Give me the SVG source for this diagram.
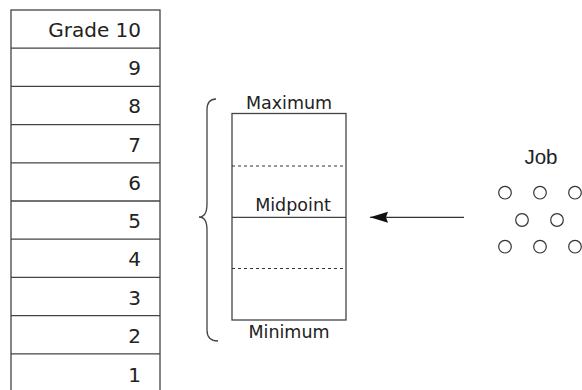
<svg xmlns="http://www.w3.org/2000/svg" width="582" height="390" viewBox="0 0 582 390">
<style>
.t{font-family:"DejaVu Sans","Open Sans",sans-serif;fill:#222}
.g{font-size:20px;text-anchor:end}
.s{font-size:17.5px;text-anchor:middle}
.ln{stroke:#444;stroke-width:1.3;fill:none}
.d{stroke:#333;stroke-width:1;stroke-dasharray:3 3;fill:none}
.c{fill:none;stroke:#333;stroke-width:1.2}
</style>
<defs>
<marker id="ah" markerWidth="18" markerHeight="12" refX="18" refY="6" orient="auto" markerUnits="userSpaceOnUse">
<path d="M18,6 L0,0.5 L2,6 L0,11.5 Z" fill="#111"/>
</marker>
</defs>
<rect width="582" height="390" fill="#fff"/>
<g id="grades">
<rect class="ln" x="11" y="10" width="149" height="383"/>
<path class="ln" d="M11,48.2H160M11,86.4H160M11,124.6H160M11,162.8H160M11,201H160M11,239.2H160M11,277.4H160M11,315.6H160M11,353.8H160"/>
<text class="t g" x="141" y="37">Grade 10</text>
<text class="t g" x="141" y="75">9</text>
<text class="t g" x="141" y="113">8</text>
<text class="t g" x="141" y="152">7</text>
<text class="t g" x="141" y="190">6</text>
<text class="t g" x="141" y="228">5</text>
<text class="t g" x="141" y="266">4</text>
<text class="t g" x="141" y="305">3</text>
<text class="t g" x="141" y="343">2</text>
<text class="t g" x="141" y="382">1</text>
</g>
<g id="range">
<rect class="ln" x="232" y="113.5" width="114" height="206.5"/>
<line class="ln" x1="232" y1="217.3" x2="346" y2="217.3"/>
<line class="d" x1="232" y1="166" x2="346" y2="166"/>
<line class="d" x1="232" y1="268.5" x2="346" y2="268.5"/>
<text class="t s" x="289" y="109">Maximum</text>
<text class="t s" x="293" y="211">Midpoint</text>
<text class="t s" x="289" y="338">Minimum</text>
</g>
<g id="brace">
<path class="ln" d="M216,99 Q207,99 207,110 L207,204 Q207,217 199,217 Q207,217 207,230 L207,330 Q207,341 218,341"/>
</g>
<g id="job">
<text class="t" x="541" y="164" style="font-family:'Liberation Sans',Arial,sans-serif;font-size:20.5px;text-anchor:middle">Job</text>
<circle class="c" cx="505" cy="192.7" r="6.3"/>
<circle class="c" cx="540" cy="192.7" r="6.3"/>
<circle class="c" cx="575" cy="192.7" r="6.3"/>
<circle class="c" cx="522" cy="220" r="6.3"/>
<circle class="c" cx="557" cy="220" r="6.3"/>
<circle class="c" cx="505" cy="246.7" r="6.3"/>
<circle class="c" cx="540" cy="246.7" r="6.3"/>
<circle class="c" cx="575" cy="246.7" r="6.3"/>
</g>
<g id="connectors">
<line x1="464" y1="217.3" x2="370" y2="217.3" stroke="#333" stroke-width="1.3" marker-end="url(#ah)"/>
</g>
</svg>
